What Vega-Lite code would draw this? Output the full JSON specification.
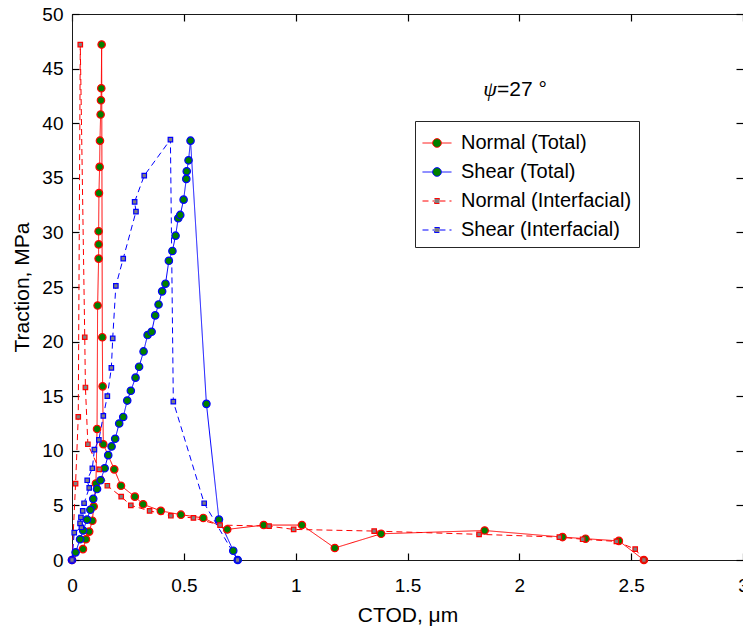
{
  "$schema": "https://vega.github.io/schema/vega-lite/v6.json",
  "autosize": "none",
  "padding": {"left": 72, "top": 14, "right": 0, "bottom": 67},
  "width": 671,
  "height": 546,
  "background": "white",
  "config": {
    "view": {"stroke": "#1a1a1a", "strokeWidth": 1},
    "font": "Liberation Sans",
    "axis": {"grid": false, "domainColor": "#1a1a1a", "tickColor": "#000000", "tickWidth": 1.2, "labelColor": "#000000", "titleColor": "#000000", "labelFont": "Liberation Sans", "titleFont": "Liberation Sans", "titleFontWeight": "normal", "labelFontSize": 19, "titleFontSize": 21}
  },
  "data": {
    "values": [
      {"series": "Normal (Total)", "i": 0, "x": 0, "y": 0},
      {"series": "Normal (Total)", "i": 1, "x": 0.049, "y": 1.0},
      {"series": "Normal (Total)", "i": 2, "x": 0.0625, "y": 1.9},
      {"series": "Normal (Total)", "i": 3, "x": 0.077, "y": 2.6},
      {"series": "Normal (Total)", "i": 4, "x": 0.091, "y": 3.6},
      {"series": "Normal (Total)", "i": 5, "x": 0.097, "y": 4.9},
      {"series": "Normal (Total)", "i": 6, "x": 0.107, "y": 7.0},
      {"series": "Normal (Total)", "i": 7, "x": 0.112, "y": 12.0},
      {"series": "Normal (Total)", "i": 8, "x": 0.1145, "y": 23.3},
      {"series": "Normal (Total)", "i": 9, "x": 0.119, "y": 27.6},
      {"series": "Normal (Total)", "i": 10, "x": 0.119, "y": 28.9},
      {"series": "Normal (Total)", "i": 11, "x": 0.119, "y": 30.1},
      {"series": "Normal (Total)", "i": 12, "x": 0.1205, "y": 33.6},
      {"series": "Normal (Total)", "i": 13, "x": 0.1235, "y": 36.0},
      {"series": "Normal (Total)", "i": 14, "x": 0.125, "y": 38.4},
      {"series": "Normal (Total)", "i": 15, "x": 0.128, "y": 40.8},
      {"series": "Normal (Total)", "i": 16, "x": 0.1295, "y": 42.1},
      {"series": "Normal (Total)", "i": 17, "x": 0.131, "y": 43.2},
      {"series": "Normal (Total)", "i": 18, "x": 0.1325, "y": 47.2},
      {"series": "Normal (Total)", "i": 19, "x": 0.1355, "y": 20.4},
      {"series": "Normal (Total)", "i": 20, "x": 0.137, "y": 15.9},
      {"series": "Normal (Total)", "i": 21, "x": 0.14, "y": 10.6},
      {"series": "Normal (Total)", "i": 22, "x": 0.189, "y": 8.3},
      {"series": "Normal (Total)", "i": 23, "x": 0.219, "y": 6.8},
      {"series": "Normal (Total)", "i": 24, "x": 0.281, "y": 5.8},
      {"series": "Normal (Total)", "i": 25, "x": 0.318, "y": 5.1},
      {"series": "Normal (Total)", "i": 26, "x": 0.397, "y": 4.5},
      {"series": "Normal (Total)", "i": 27, "x": 0.487, "y": 4.15},
      {"series": "Normal (Total)", "i": 28, "x": 0.587, "y": 3.85},
      {"series": "Normal (Total)", "i": 29, "x": 0.694, "y": 2.8},
      {"series": "Normal (Total)", "i": 30, "x": 0.857, "y": 3.2},
      {"series": "Normal (Total)", "i": 31, "x": 1.028, "y": 3.2},
      {"series": "Normal (Total)", "i": 32, "x": 1.175, "y": 1.1},
      {"series": "Normal (Total)", "i": 33, "x": 1.382, "y": 2.4},
      {"series": "Normal (Total)", "i": 34, "x": 1.845, "y": 2.7},
      {"series": "Normal (Total)", "i": 35, "x": 2.193, "y": 2.1},
      {"series": "Normal (Total)", "i": 36, "x": 2.296, "y": 1.95},
      {"series": "Normal (Total)", "i": 37, "x": 2.445, "y": 1.75},
      {"series": "Normal (Total)", "i": 38, "x": 2.557, "y": 0},

      {"series": "Shear (Total)", "i": 0, "x": 0, "y": 0},
      {"series": "Shear (Total)", "i": 1, "x": 0.016, "y": 0.7},
      {"series": "Shear (Total)", "i": 2, "x": 0.036, "y": 1.9},
      {"series": "Shear (Total)", "i": 3, "x": 0.05, "y": 2.7},
      {"series": "Shear (Total)", "i": 4, "x": 0.067, "y": 3.7},
      {"series": "Shear (Total)", "i": 5, "x": 0.082, "y": 4.6},
      {"series": "Shear (Total)", "i": 6, "x": 0.095, "y": 5.6},
      {"series": "Shear (Total)", "i": 7, "x": 0.112, "y": 6.5},
      {"series": "Shear (Total)", "i": 8, "x": 0.128, "y": 7.3},
      {"series": "Shear (Total)", "i": 9, "x": 0.146, "y": 8.4},
      {"series": "Shear (Total)", "i": 10, "x": 0.162, "y": 9.6},
      {"series": "Shear (Total)", "i": 11, "x": 0.177, "y": 10.4},
      {"series": "Shear (Total)", "i": 12, "x": 0.193, "y": 11.1},
      {"series": "Shear (Total)", "i": 13, "x": 0.211, "y": 12.5},
      {"series": "Shear (Total)", "i": 14, "x": 0.229, "y": 13.1},
      {"series": "Shear (Total)", "i": 15, "x": 0.247, "y": 14.6},
      {"series": "Shear (Total)", "i": 16, "x": 0.263, "y": 15.5},
      {"series": "Shear (Total)", "i": 17, "x": 0.284, "y": 16.7},
      {"series": "Shear (Total)", "i": 18, "x": 0.3, "y": 17.7},
      {"series": "Shear (Total)", "i": 19, "x": 0.32, "y": 19.1},
      {"series": "Shear (Total)", "i": 20, "x": 0.338, "y": 20.6},
      {"series": "Shear (Total)", "i": 21, "x": 0.356, "y": 20.9},
      {"series": "Shear (Total)", "i": 22, "x": 0.372, "y": 22.4},
      {"series": "Shear (Total)", "i": 23, "x": 0.387, "y": 23.4},
      {"series": "Shear (Total)", "i": 24, "x": 0.403, "y": 24.6},
      {"series": "Shear (Total)", "i": 25, "x": 0.418, "y": 25.3},
      {"series": "Shear (Total)", "i": 26, "x": 0.433, "y": 27.4},
      {"series": "Shear (Total)", "i": 27, "x": 0.449, "y": 28.3},
      {"series": "Shear (Total)", "i": 28, "x": 0.463, "y": 29.7},
      {"series": "Shear (Total)", "i": 29, "x": 0.475, "y": 31.3},
      {"series": "Shear (Total)", "i": 30, "x": 0.484, "y": 31.6},
      {"series": "Shear (Total)", "i": 31, "x": 0.499, "y": 33.0},
      {"series": "Shear (Total)", "i": 32, "x": 0.511, "y": 34.9},
      {"series": "Shear (Total)", "i": 33, "x": 0.513, "y": 35.6},
      {"series": "Shear (Total)", "i": 34, "x": 0.521, "y": 36.6},
      {"series": "Shear (Total)", "i": 35, "x": 0.53, "y": 38.4},
      {"series": "Shear (Total)", "i": 36, "x": 0.601, "y": 14.3},
      {"series": "Shear (Total)", "i": 37, "x": 0.657, "y": 3.7},
      {"series": "Shear (Total)", "i": 38, "x": 0.721, "y": 0.85},
      {"series": "Shear (Total)", "i": 39, "x": 0.741, "y": 0},

      {"series": "Normal (Interfacial)", "i": 0, "x": 0, "y": 0},
      {"series": "Normal (Interfacial)", "i": 1, "x": 0.016, "y": 7.0},
      {"series": "Normal (Interfacial)", "i": 2, "x": 0.028, "y": 13.1},
      {"series": "Normal (Interfacial)", "i": 3, "x": 0.037, "y": 47.2},
      {"series": "Normal (Interfacial)", "i": 4, "x": 0.057, "y": 20.4},
      {"series": "Normal (Interfacial)", "i": 5, "x": 0.06, "y": 15.8},
      {"series": "Normal (Interfacial)", "i": 6, "x": 0.071, "y": 10.6},
      {"series": "Normal (Interfacial)", "i": 7, "x": 0.122, "y": 8.3},
      {"series": "Normal (Interfacial)", "i": 8, "x": 0.158, "y": 6.8},
      {"series": "Normal (Interfacial)", "i": 9, "x": 0.22, "y": 5.8},
      {"series": "Normal (Interfacial)", "i": 10, "x": 0.263, "y": 5.0},
      {"series": "Normal (Interfacial)", "i": 11, "x": 0.347, "y": 4.5},
      {"series": "Normal (Interfacial)", "i": 12, "x": 0.442, "y": 4.05},
      {"series": "Normal (Interfacial)", "i": 13, "x": 0.543, "y": 3.85},
      {"series": "Normal (Interfacial)", "i": 14, "x": 0.662, "y": 3.2},
      {"series": "Normal (Interfacial)", "i": 15, "x": 0.881, "y": 3.1},
      {"series": "Normal (Interfacial)", "i": 16, "x": 0.991, "y": 2.8},
      {"series": "Normal (Interfacial)", "i": 17, "x": 1.351, "y": 2.65},
      {"series": "Normal (Interfacial)", "i": 18, "x": 1.82, "y": 2.35},
      {"series": "Normal (Interfacial)", "i": 19, "x": 2.179, "y": 2.1},
      {"series": "Normal (Interfacial)", "i": 20, "x": 2.283, "y": 1.9},
      {"series": "Normal (Interfacial)", "i": 21, "x": 2.434, "y": 1.7},
      {"series": "Normal (Interfacial)", "i": 22, "x": 2.518, "y": 1.0},
      {"series": "Normal (Interfacial)", "i": 23, "x": 2.557, "y": 0},

      {"series": "Shear (Interfacial)", "i": 0, "x": 0, "y": 0},
      {"series": "Shear (Interfacial)", "i": 1, "x": 0.01, "y": 2.5},
      {"series": "Shear (Interfacial)", "i": 2, "x": 0.042, "y": 3.0},
      {"series": "Shear (Interfacial)", "i": 3, "x": 0.036, "y": 3.35},
      {"series": "Shear (Interfacial)", "i": 4, "x": 0.04, "y": 3.9},
      {"series": "Shear (Interfacial)", "i": 5, "x": 0.048, "y": 4.5},
      {"series": "Shear (Interfacial)", "i": 6, "x": 0.054, "y": 5.2},
      {"series": "Shear (Interfacial)", "i": 7, "x": 0.077, "y": 6.6},
      {"series": "Shear (Interfacial)", "i": 8, "x": 0.068, "y": 7.3},
      {"series": "Shear (Interfacial)", "i": 9, "x": 0.091, "y": 8.4},
      {"series": "Shear (Interfacial)", "i": 10, "x": 0.1, "y": 10.1},
      {"series": "Shear (Interfacial)", "i": 11, "x": 0.12, "y": 11.0},
      {"series": "Shear (Interfacial)", "i": 12, "x": 0.14, "y": 13.2},
      {"series": "Shear (Interfacial)", "i": 13, "x": 0.158, "y": 15.0},
      {"series": "Shear (Interfacial)", "i": 14, "x": 0.176, "y": 17.6},
      {"series": "Shear (Interfacial)", "i": 15, "x": 0.182, "y": 20.3},
      {"series": "Shear (Interfacial)", "i": 16, "x": 0.196, "y": 25.1},
      {"series": "Shear (Interfacial)", "i": 17, "x": 0.229, "y": 27.6},
      {"series": "Shear (Interfacial)", "i": 18, "x": 0.286, "y": 31.9},
      {"series": "Shear (Interfacial)", "i": 19, "x": 0.28, "y": 32.8},
      {"series": "Shear (Interfacial)", "i": 20, "x": 0.323, "y": 35.2},
      {"series": "Shear (Interfacial)", "i": 21, "x": 0.44, "y": 38.5},
      {"series": "Shear (Interfacial)", "i": 22, "x": 0.453, "y": 14.5},
      {"series": "Shear (Interfacial)", "i": 23, "x": 0.591, "y": 5.2},
      {"series": "Shear (Interfacial)", "i": 24, "x": 0.74, "y": 0}
    ]
  },
  "layer": [
    {
      "mark": {"type": "line", "strokeWidth": 1, "clip": true},
      "encoding": {
        "x": {"field": "x", "type": "quantitative", "scale": {"domain": [0, 3], "nice": false, "zero": false},
              "axis": {"orient": "bottom", "values": [0, 0.5, 1, 1.5, 2, 2.5, 3], "format": "~g", "ticks": false, "labelPadding": 16, "title": "CTOD, μm", "titlePadding": 9, "labelFlush": false}},
        "y": {"field": "y", "type": "quantitative", "scale": {"domain": [0, 50], "nice": false, "zero": false},
              "axis": {"orient": "left", "values": [0, 5, 10, 15, 20, 25, 30, 35, 40, 45, 50], "ticks": false, "labelPadding": 9, "title": "Traction, MPa", "titlePadding": 9, "labelFlush": false}},
        "color": {"field": "series", "type": "nominal",
                  "scale": {"domain": ["Normal (Total)", "Shear (Total)", "Normal (Interfacial)", "Shear (Interfacial)"], "range": ["#ff0000", "#0000ff", "#ff0000", "#0000ff"]},
                  "legend": {
                    "title": null, "orient": "none", "legendX": 343, "legendY": 107,
                    "labelFontSize": 20, "labelFont": "Liberation Sans", "labelColor": "#000000", "labelLimit": 400,
                    "symbolSize": 841, "symbolStrokeWidth": 1, "symbolType": "M-1,0L-0.3,0M0.3,0L1,0",
                    "strokeColor": "#262626", "fillColor": "white", "padding": 7, "rowPadding": 4, "labelOffset": 9,
                    "encode": {"symbols": {"update": {
                      "shape": {"signal": "indexof(datum.value,'Interfacial')>=0 ? 'M-1,0L-0.17,0M0.17,0L1,0M-0.17,-0.17L0.17,-0.17L0.17,0.17L-0.17,0.17Z' : 'M-1,0L-0.3,0M0.3,0L1,0M-0.3,0A0.3,0.3 0 1,0 0.3,0A0.3,0.3 0 1,0 -0.3,0Z'"},
                      "fill": {"signal": "indexof(datum.value,'Interfacial')>=0 ? '#808080' : '#008000'"},
                      "strokeDash": {"signal": "indexof(datum.value,'Interfacial')>=0 ? [3,2] : [1,0]"},
                      "opacity": {"value": 1}
                    }}}
                  }},
        "strokeDash": {"field": "series", "type": "nominal",
                       "scale": {"domain": ["Normal (Total)", "Shear (Total)", "Normal (Interfacial)", "Shear (Interfacial)"], "range": [[1, 0], [1, 0], [6, 4], [6, 4]]},
                       "legend": null},
        "order": {"field": "i", "type": "quantitative"}
      }
    },
    {
      "mark": {"type": "point", "filled": true, "strokeWidth": 1.2, "opacity": 1},
      "encoding": {
        "x": {"field": "x", "type": "quantitative", "axis": {"orient": "bottom", "values": [0, 0.5, 1, 1.5, 2, 2.5, 3], "labels": false, "domain": false, "ticks": true, "tickSize": 7, "offset": -7, "title": null}},
        "y": {"field": "y", "type": "quantitative", "axis": {"orient": "left", "values": [0, 5, 10, 15, 20, 25, 30, 35, 40, 45, 50], "labels": false, "domain": false, "ticks": true, "tickSize": 7, "offset": -7, "title": null}},
        "shape": {"condition": {"test": "indexof(datum.series,'Interfacial')>=0", "value": "square"}, "value": "circle"},
        "fill": {"condition": {"test": "indexof(datum.series,'Interfacial')>=0", "value": "#808080"}, "value": "#008000"},
        "stroke": {"condition": {"test": "indexof(datum.series,'Normal')>=0", "value": "#ff0000"}, "value": "#0000ff"},
        "size": {"condition": {"test": "indexof(datum.series,'Interfacial')>=0", "value": 20}, "value": 55}
      }
    },
    {
      "data": {"values": [{"label": "ψ"}]},
      "mark": {"type": "text", "font": "Liberation Serif", "fontStyle": "italic", "fontSize": 22, "align": "right", "baseline": "alphabetic", "color": "#000000"},
      "encoding": {
        "text": {"field": "label"},
        "x": {"datum": 1.9, "type": "quantitative", "axis": {"orient": "top", "values": [0, 0.5, 1, 1.5, 2, 2.5, 3], "labels": false, "domain": false, "ticks": true, "tickSize": 7, "offset": -7, "title": null}},
        "y": {"datum": 42.45, "type": "quantitative", "axis": {"orient": "right", "values": [0, 5, 10, 15, 20, 25, 30, 35, 40, 45, 50], "labels": false, "domain": false, "ticks": true, "tickSize": 7, "offset": -7, "title": null}}
      }
    },
    {
      "data": {"values": [{"label": "=27  °"}]},
      "mark": {"type": "text", "font": "Liberation Sans", "fontSize": 21, "align": "left", "baseline": "alphabetic", "color": "#000000"},
      "encoding": {
        "text": {"field": "label"},
        "x": {"datum": 1.9, "type": "quantitative", "axis": null},
        "y": {"datum": 42.45, "type": "quantitative", "axis": null}
      }
    }
  ],
  "resolve": {"axis": {"x": "independent", "y": "independent"}}
}
